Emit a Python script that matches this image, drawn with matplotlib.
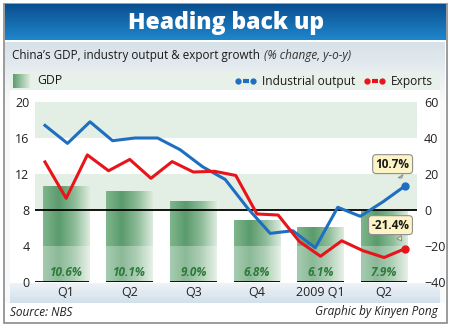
import numpy as np
import matplotlib
matplotlib.use("Agg")
import matplotlib.pyplot as plt
from matplotlib.colors import LinearSegmentedColormap, to_rgb
from matplotlib.patches import Rectangle

# ---------------- data ----------------
quarters = ["Q1", "Q2", "Q3", "Q4", "2009 Q1", "Q2"]
gdp = [10.6, 10.1, 9.0, 6.8, 6.1, 7.9]
# Industrial output: Dec07, Jan-Feb08, Mar..Dec08, Jan-Feb09, Mar..Jun09 (left axis)
industrial = [17.4, 15.4, 17.8, 15.7, 16.0, 16.0, 14.7, 12.8, 11.4, 8.2, 5.4, 5.7,
              3.8, 8.3, 7.3, 8.9, 10.7]
# Exports: Jan08 .. Jun09 (right axis)
exports = [26.7, 6.5, 30.6, 21.8, 28.1, 17.6, 26.9, 21.1, 21.5, 19.2, -2.2, -2.8,
           -17.5, -25.7, -17.1, -22.6, -26.4, -21.4]
left_ticks = [0, 4, 8, 12, 16, 20]
right_ticks = [-40, -20, 0, 20, 40, 60]

W, H = 450, 326
fig = plt.figure(figsize=(W / 100, H / 100), dpi=100)
FONT = ["Open Sans", "DejaVu Sans"]
plt.rcParams["font.family"] = FONT

# ---------------- background layer (pixel coordinates) ----------------
bg = fig.add_axes([0, 0, 1, 1], zorder=-5)
bg.axis("off")

def vgrad(ax, x0, x1, y0, y1, c0, c1, z=0):
    g = np.linspace(0, 1, 64)[:, None]
    cm = LinearSegmentedColormap.from_list("g", [c0, c1])
    ax.imshow(g, cmap=cm, extent=[x0, x1, y1, y0], aspect="auto", zorder=z,
              interpolation="bicubic")

bg.add_patch(Rectangle((3.5, 3.5), W - 7, H - 7, fc="white", ec="#8a8a8a", lw=1.2, zorder=0))
vgrad(bg, 4.5, W - 4.5, 4.5, 40, "#0a4f8f", "#1f86cc", z=1)
vgrad(bg, 5, W - 5, 42, 100, "#d6e1e8", "#f7f9fa", z=1)
bg.add_patch(Rectangle((5, 100), W - 10, 203, fc="#f7f9fa", ec="none", zorder=1))
bg.add_patch(Rectangle((10, 72), W - 20, 18, fc="#e8f0ea", ec="none", zorder=2))
bg.add_patch(Rectangle((10, 90), W - 20, 193, fc="white", ec="none", zorder=2))
vgrad(bg, 10, W - 10, 283, 303, "#eef3f7", "#d2e0eb", z=2)

def fx(x):
    return x / W

def fy(y):
    return 1 - y / H

fig.text(fx(226), fy(23), "Heading back up", color="white", fontsize=16.5,
         fontweight="heavy", ha="center", va="center")
fig.text(fx(12), fy(56), "China\u2019s GDP, industry output & export growth",
         fontsize=8.4, color="#1a1a1a", ha="left", va="center")
fig.text(fx(264), fy(56), "(% change, y-o-y)", fontsize=8.5, style="italic",
         color="#333333", ha="left", va="center")
fig.text(fx(10), fy(312), "Source: NBS", fontsize=8.5, style="italic",
         color="#222222", ha="left", va="center")
fig.text(fx(438), fy(312), "Graphic by Kinyen Pong", fontsize=8.5, style="italic",
         color="#222222", ha="right", va="center")

# legend
g = np.linspace(0, 1, 32)[None, :]
cmleg = LinearSegmentedColormap.from_list("l", ["#5c9d6e", "#dcebdd"])
bg.imshow(g, cmap=cmleg, extent=[13, 30, 88, 74], aspect="auto", zorder=3)
bg.text(37, 81, "GDP", fontsize=8.8, color="#1a1a1a", ha="left", va="center", zorder=4)
for x0, col, lab in [(238, "#1f6fc0", "Industrial output"), (367, "#e8141c", "Exports")]:
    bg.plot([x0, x0 + 15], [81, 81], ls="none", marker="o", ms=3.5, color=col, zorder=4)
    bg.plot([x0 + 4.5, x0 + 10.5], [81, 81], lw=3, color=col, solid_capstyle="butt", zorder=4)
    bg.text(x0 + 24, 81, lab, fontsize=8.6, color="#1a1a1a", ha="left", va="center", zorder=4)
bg.set_xlim(0, W)
bg.set_ylim(H, 0)

# ---------------- main axes ----------------
ax = fig.add_axes([fx(35), fy(282), (417 - 35) / W, (282 - 102) / H], zorder=2)
ax.patch.set_alpha(0)
xl = (-0.47, 17.55)
ax.axhspan(16, 20, color="#e3eee5", zorder=0, lw=0)
ax.axhspan(8, 12, color="#e3eee5", zorder=0, lw=0)

stops_top = ["#7fb58c", "#5a9b6c", "#8cbb97", "#dcebdd"]
cm_top = LinearSegmentedColormap.from_list("bt", stops_top)
def lighten(c, f):
    r = np.array(to_rgb(c))
    return tuple(r + (1 - r) * f)
cm_bot = LinearSegmentedColormap.from_list("bb", [lighten(c, 0.3) for c in stops_top])
bw = 2.2
grad = np.linspace(0, 1, 64)[None, :]
for i, v in enumerate(gdp):
    xc = 1 + 3 * i
    x0, x1 = xc - bw / 2, xc + bw / 2
    ax.imshow(grad, cmap=cm_top, extent=[x0, x1, 4, v], aspect="auto", zorder=1,
              interpolation="bicubic")
    ax.imshow(grad, cmap=cm_bot, extent=[x0, x1, 0, 4], aspect="auto", zorder=1,
              interpolation="bicubic")
    ax.plot([x0 if i else xl[0], x1], [0, 0], color="black", lw=1.3, zorder=3,
            solid_capstyle="butt")
    ax.text(xc, 1.1, f"{v:.1f}%", fontsize=8.5, fontweight="bold", style="italic",
            color="#2e7a3b", ha="center", va="center", zorder=4)

ax.axhline(8, color="black", lw=1.3, zorder=3)

bx = np.linspace(0, 17, len(industrial))
ax.plot(bx, industrial, color="#1f6fc0", lw=2.2, zorder=5)
ax.plot(bx[-1], industrial[-1], "o", color="#1f6fc0", ms=5, zorder=6)

ax.set_xlim(*xl)
ax.set_ylim(0, 20)
ax.set_yticks(left_ticks)
ax.set_xticks([1 + 3 * i for i in range(len(quarters))])
ax.set_xticklabels(quarters)
ax.tick_params(axis="both", length=0, labelsize=9, colors="#222222")
ax.tick_params(axis="y", pad=4)
ax.tick_params(axis="x", pad=3)
for s in ax.spines.values():
    s.set_visible(False)

ax2 = ax.twinx()
ax2.set_zorder(3)
ax2.patch.set_visible(False)
rx = np.arange(len(exports))
ax2.plot(rx, exports, color="#e8141c", lw=2.2, zorder=5)
ax2.plot(rx[-1], exports[-1], "o", color="#e8141c", ms=5, zorder=6)
ax2.set_ylim(-40, 60)
ax2.set_yticks(right_ticks)
ax2.tick_params(axis="y", length=0, labelsize=9, colors="#222222", pad=5)
for s in ax2.spines.values():
    s.set_visible(False)

box = dict(boxstyle="round,pad=0.25,rounding_size=0.3", fc="#fdf4c6", ec="#8f8f8f", lw=0.8)
arrow = dict(arrowstyle="wedge,tail_width=0.45,shrink_factor=0.5",
             fc="#fdf4c6", ec="#8f8f8f", lw=0.8)
ax.annotate(f"{industrial[-1]:.1f}%", xy=(bx[-1] - 0.1, industrial[-1] + 0.6),
            xytext=(bx[-1] - 0.6, industrial[-1] + 2.4), fontsize=8.5, fontweight="bold",
            color="#1a1a1a", ha="center", va="center", bbox=box, zorder=7,
            arrowprops=arrow)
ax2.annotate(f"{exports[-1]:.1f}%", xy=(rx[-1] - 0.1, exports[-1] + 3),
             xytext=(rx[-1] - 0.7, exports[-1] + 13), fontsize=8.5, fontweight="bold",
             color="#1a1a1a", ha="center", va="center", bbox=box, zorder=7,
             arrowprops=arrow)

fig.savefig("out.png", dpi=100)
